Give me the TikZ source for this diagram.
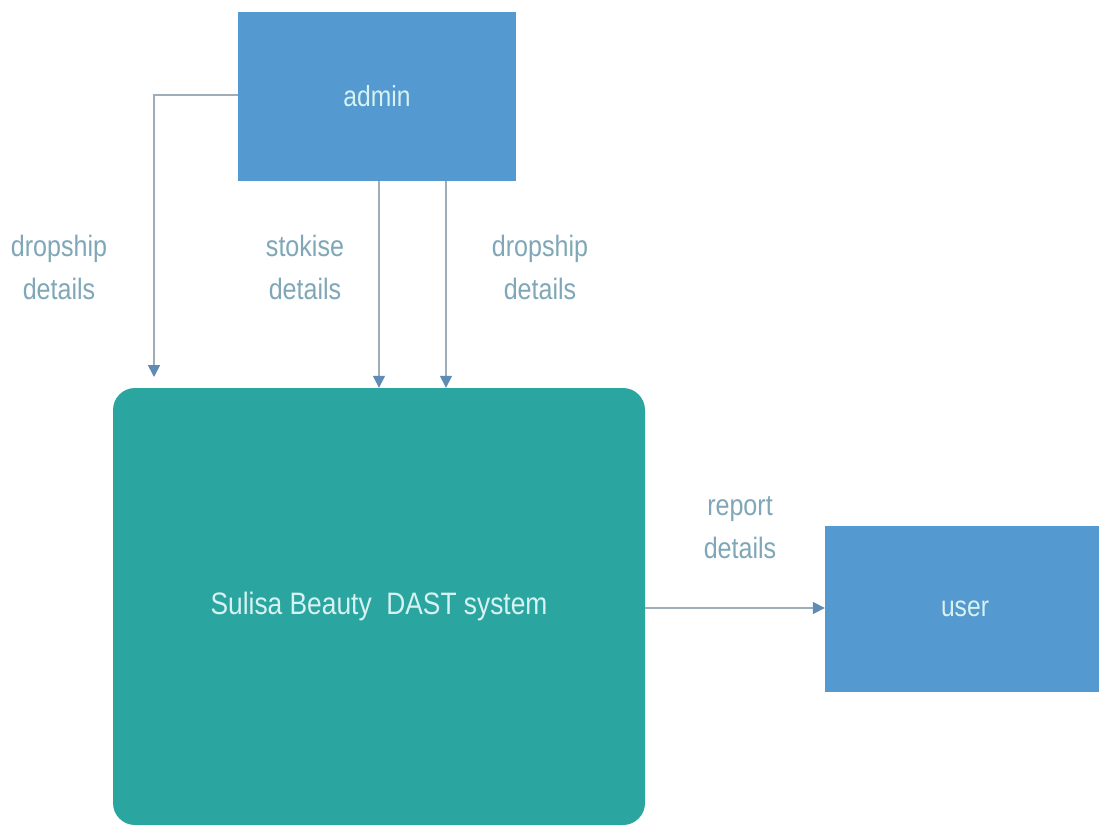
\documentclass[tikz,border=0pt]{standalone}
\usepackage{fontspec}
\setmainfont{Liberation Sans}[FakeStretch=0.85]
\usetikzlibrary{arrows.meta}
\definecolor{boxblue}{HTML}{5499D0}
\definecolor{systeal}{HTML}{2BA59F}
\definecolor{boxtext}{HTML}{D6F2F2}
\definecolor{labelcol}{HTML}{7FA7B7}
\definecolor{linecol}{HTML}{9EADB8}
\definecolor{tipcol}{HTML}{5F8CB4}
\tikzset{
  entity/.style={fill=boxblue, draw=none, text=boxtext, font=\fontsize{29}{30}\selectfont, inner sep=0pt},
  sysbox/.style={fill=systeal, draw=none, rounded corners=22pt, text=boxtext, font=\fontsize{31}{32}\selectfont, inner sep=0pt},
  flow/.style={draw=linecol, line width=1.6pt, -{Triangle[length=12pt,width=12pt,color=tipcol]}},
  flowlabel/.style={text=labelcol, font=\fontsize{29.5}{43}\selectfont, align=center, inner sep=0pt}
}
\begin{document}
\begin{tikzpicture}[x=1pt,y=-1pt]
\useasboundingbox[fill=white] (0,0) rectangle (1099,825);
\node[entity, minimum width=278pt, minimum height=169pt] (admin) at (377,96.5) {admin};
\node[sysbox, minimum width=532pt, minimum height=437pt] (sys) at (379,606.5) {\raisebox{-4pt}{Sulisa Beauty\ \ DAST system}};
\node[entity, minimum width=280pt, minimum height=166pt] (user) at (965,609) {user};
\coordinate (turn) at (154,95);
\coordinate (leftend) at (154,377);
\draw[flow] (admin.west |- turn) -- (turn) -- (leftend);
\draw[flow] (admin.south -| 379,0) -- (sys.north -| 379,0);
\draw[flow] (admin.south -| 446,0) -- (sys.north -| 446,0);
\draw[flow] (sys.east |- 0,608) -- (user.west |- 0,608);
\node[flowlabel] (l1) at (59,267) {dropship\\details};
\node[flowlabel] (l2) at (305,267) {stokise\\details};
\node[flowlabel] (l3) at (540,267) {dropship\\details};
\node[flowlabel] (l4) at (740,528) {report\\details};
\end{tikzpicture}
\end{document}
